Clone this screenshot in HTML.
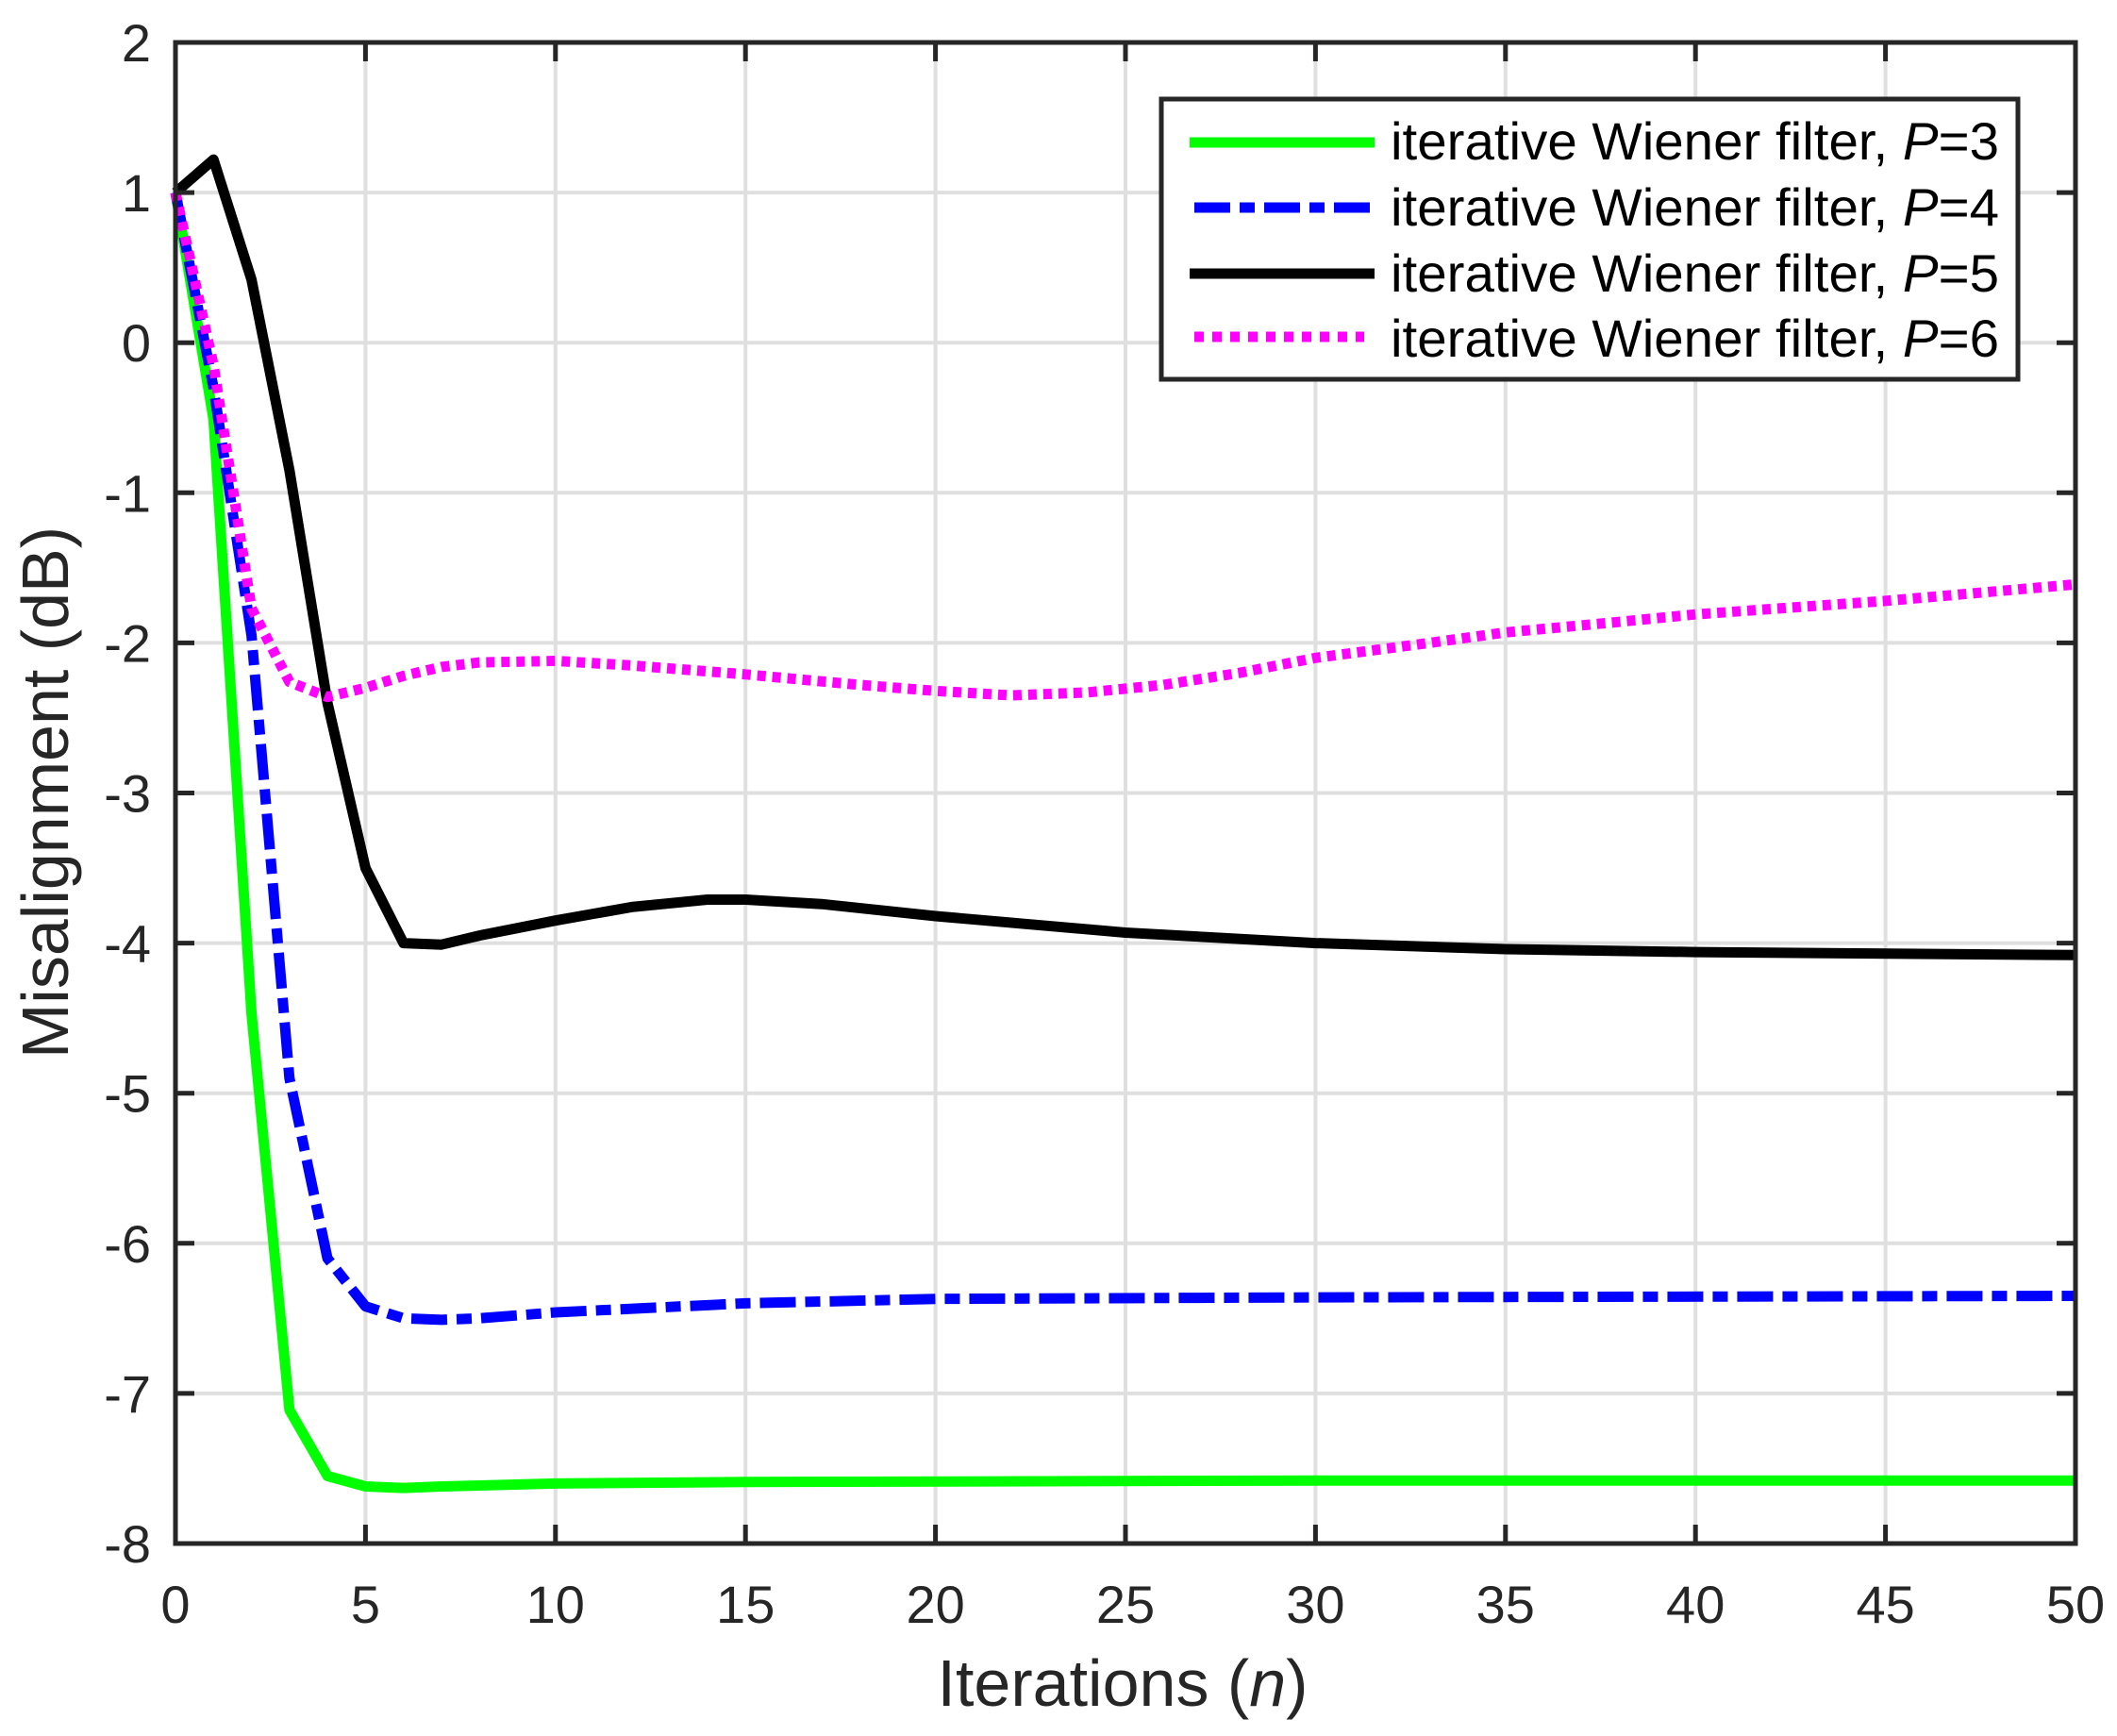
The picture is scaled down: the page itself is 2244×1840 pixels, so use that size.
<!DOCTYPE html>
<html><head><meta charset="utf-8"><style>html,body{margin:0;padding:0;background:#fff}svg{display:block}</style></head>
<body>
<svg id="s" width="2244" height="1840" xmlns="http://www.w3.org/2000/svg" font-family="Liberation Sans, sans-serif">
<rect width="2244" height="1840" fill="#fff"/>
<g id="grid" stroke="#dfdfdf" stroke-width="4"></g>
<g id="series" fill="none" stroke-linejoin="round"></g>
<rect x="186" y="45" width="2014" height="1591" fill="none" stroke="#262626" stroke-width="5"/>
<g id="ticks" stroke="#262626" stroke-width="5"></g>
<g id="labels" fill="#262626" font-size="56"></g>
<text x="1190" y="1808" font-size="70" text-anchor="middle" fill="#262626">Iterations (<tspan font-style="italic">n</tspan>)</text>
<text transform="translate(72,840) rotate(-90)" font-size="70" text-anchor="middle" fill="#262626">Misalignment (dB)</text>
<rect x="1231" y="105" width="908" height="297" fill="#fff" stroke="#262626" stroke-width="5"/>
<g stroke-width="11">
<line x1="1261" y1="151" x2="1457" y2="151" stroke="#00ff00"/>
<line x1="1266" y1="220" x2="1455" y2="220" stroke="#0000ff" stroke-dasharray="38 10 16 10"/>
<line x1="1261" y1="290" x2="1457" y2="290" stroke="#000"/>
<line x1="1266" y1="357" x2="1446" y2="357" stroke="#ff00ff" stroke-dasharray="10 9"/>
</g>
<g font-size="56" fill="#000">
<text x="1474" y="169" textLength="645" lengthAdjust="spacingAndGlyphs">iterative Wiener filter,  <tspan font-style="italic">P</tspan>=3</text>
<text x="1474" y="239" textLength="645" lengthAdjust="spacingAndGlyphs">iterative Wiener filter,  <tspan font-style="italic">P</tspan>=4</text>
<text x="1474" y="309" textLength="645" lengthAdjust="spacingAndGlyphs">iterative Wiener filter,  <tspan font-style="italic">P</tspan>=5</text>
<text x="1474" y="378" textLength="645" lengthAdjust="spacingAndGlyphs">iterative Wiener filter,  <tspan font-style="italic">P</tspan>=6</text>
</g>
</svg>
<script>
var NS="http://www.w3.org/2000/svg";
function X(v){return 186+v*40.28;}function Y(v){return 45+(2-v)*159.1;}
function el(p,t,a,txt){var e=document.createElementNS(NS,t);for(var k in a)e.setAttribute(k,a[k]);if(txt!=null)e.textContent=txt;document.getElementById(p).appendChild(e);return e;}
for(var i=5;i<50;i+=5)el("grid","line",{x1:X(i),y1:45,x2:X(i),y2:1636});
for(var j=-7;j<2;j++)el("grid","line",{x1:186,y1:Y(j),x2:2200,y2:Y(j)});
for(var i=0;i<=50;i+=5){el("ticks","line",{x1:X(i),y1:1636,x2:X(i),y2:1616});el("ticks","line",{x1:X(i),y1:45,x2:X(i),y2:65});
el("labels","text",{x:X(i),y:1720,"text-anchor":"middle"},String(i));}
for(var j=-8;j<=2;j++){el("ticks","line",{x1:186,y1:Y(j),x2:206,y2:Y(j)});el("ticks","line",{x1:2200,y1:Y(j),x2:2180,y2:Y(j)});
el("labels","text",{x:160,y:Y(j)+20,"text-anchor":"end"},String(j));}
function path(pts,col,dash){var d="";pts.forEach(function(p,k){d+=(k?"L":"M")+X(p[0]).toFixed(1)+","+Y(p[1]).toFixed(1);});
var a={d:d,stroke:col,"stroke-width":11};if(dash)a["stroke-dasharray"]=dash;el("series","path",a);}
path([[0,1],[1,-0.51],[2,-4.47],[3,-7.11],[4,-7.55],[5,-7.62],[6,-7.63],[7,-7.62],[10,-7.6],[15,-7.59],[30,-7.58],[50,-7.58]],"#00ff00");
path([[0,1],[1,-0.3],[2,-1.95],[3,-4.9],[4,-6.1],[5,-6.42],[6,-6.5],[7,-6.51],[8,-6.5],[10,-6.46],[15,-6.4],[20,-6.37],[30,-6.36],[50,-6.35]],"#0000ff","38 10 16 10");
path([[0,1],[1,1.22],[2,0.42],[3,-0.85],[4,-2.4],[5,-3.5],[6,-4.0],[7,-4.01],[8,-3.95],[9,-3.9],[10,-3.85],[12,-3.76],[14,-3.71],[15,-3.71],[17,-3.74],[20,-3.82],[25,-3.93],[30,-4.0],[35,-4.04],[40,-4.06],[50,-4.08]],"#000");
path([[0,1],[1,-0.15],[2,-1.77],[3,-2.26],[4,-2.36],[5,-2.3],[6,-2.22],[7,-2.16],[8,-2.13],[10,-2.12],[12,-2.15],[15,-2.21],[18,-2.28],[20,-2.32],[22,-2.35],[24,-2.33],[26,-2.28],[28,-2.2],[30,-2.1],[33,-2.0],[35,-1.93],[38,-1.86],[40,-1.81],[45,-1.72],[50,-1.61]],"#ff00ff","9 7");
</script>
</body></html>
